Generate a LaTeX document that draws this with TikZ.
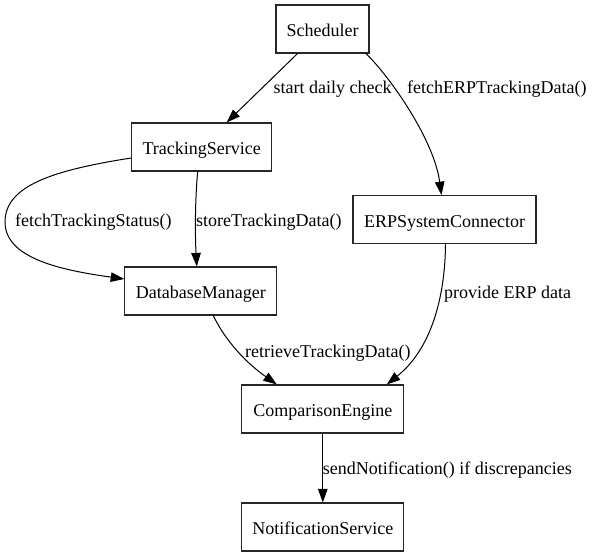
\documentclass[tikz,border=0pt]{standalone}
\usepackage{fontspec}
\setmainfont{LiberationSerif}[Extension=.ttf,UprightFont=*-Regular,BoldFont=*-Bold,ItalicFont=*-Italic,BoldItalicFont=*-BoldItalic]
\usetikzlibrary{arrows.meta,calc}
\begin{document}
\begin{tikzpicture}[x=1pt,y=-1pt,
  box/.style={draw=black!85,line width=1.1pt,minimum height=48pt,inner sep=0pt,
    text height=15pt,text depth=0pt,font=\fontsize{18}{20}\selectfont},
  lbl/.style={anchor=base west,inner sep=0pt,font=\fontsize{18}{20}\selectfont},
  edge/.style={line width=1pt,-{Triangle[length=13.5pt,width=9.5pt]}}]
\useasboundingbox (0,0) rectangle (592,557);
\node[box,minimum width=93pt]  (sched) at (322.5,29) {Scheduler};
\node[box,minimum width=140pt] (ts)    at (201.7,147) {TrackingService};
\node[box,minimum width=183pt] (erp)   at (444.5,219.7) {ERPSystemConnector};
\node[box,minimum width=152pt] (db)    at (200.8,291) {DatabaseManager};
\node[box,minimum width=162pt] (ce)    at (322.8,409) {ComparisonEngine};
\node[box,minimum width=162pt] (ns)    at (322.8,527) {NotificationService};
% edges
\draw[edge] ($(sched.south)+(-25,0)$) -- ($(ts.north)+(25,0)$);
\draw[edge] ($(sched.south)+(43.5,0)$) .. controls (391,78) and (434,140) .. ($(erp.north)+(-3,0)$);
\draw[edge] ($(ts.south)+(-4,0)$) .. controls (195,200) and (195,235) .. ($(db.north)+(-4,0)$);
\draw[edge] ($(ts.west)+(0,11)$) .. controls (55,170) and (5,185) .. (5,222)
  .. controls (5,258) and (60,270) .. ($(db.west)+(0,-12)$);
\draw[edge] ($(erp.south)+(1,0)$) .. controls (445,300) and (430,350) .. ($(ce.north)+(64,0)$);
\draw[edge] ($(db.south)+(12.5,0)$) .. controls (225,340) and (245,362) .. ($(ce.north)+(-46,0)$);
\draw[edge] (ce.south) -- (ns.north);
% labels
\node[lbl] (l1) at (273.5,93.5) {start daily check};
\node[lbl] (l2) at (407,93.5) {fetchERPTrackingData()};
\node[lbl] (l3) at (15,226) {fetchTrackingStatus()};
\node[lbl] (l4) at (196,226) {storeTrackingData()};
\node[lbl] (l5) at (444,298.3) {provide ERP data};
\node[lbl] (l6) at (245,357.3) {retrieveTrackingData()};
\node[lbl] (l7) at (322.7,474.3) {sendNotification() if discrepancies};
\end{tikzpicture}
\end{document}
